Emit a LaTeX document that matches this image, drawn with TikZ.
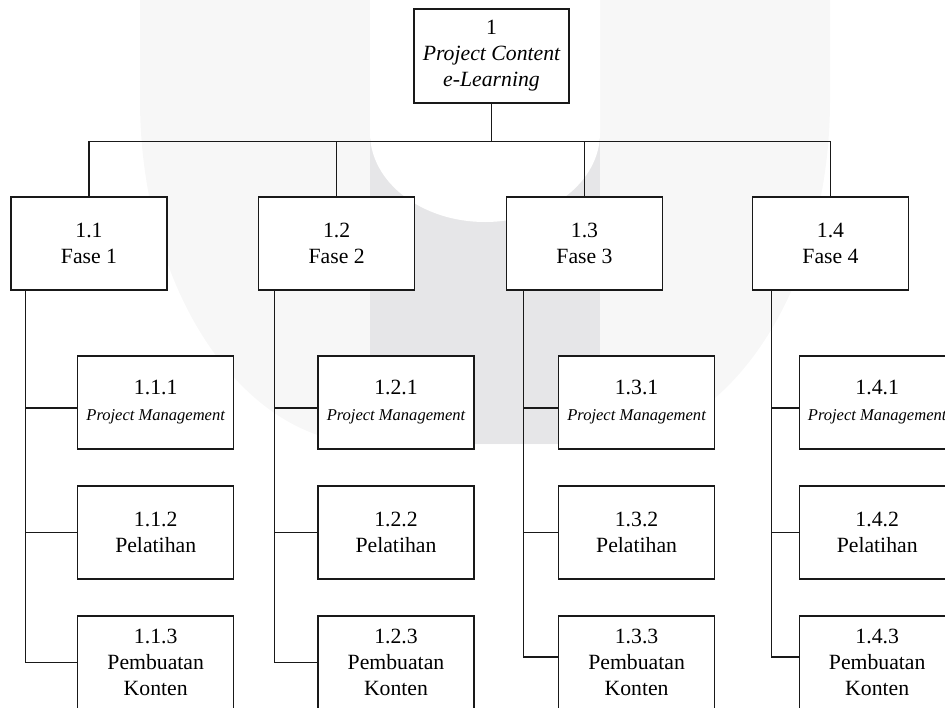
\documentclass[tikz,border=0pt]{standalone}
\usepackage{fontspec}
\setmainfont{Liberation Serif}
\usetikzlibrary{calc}
\definecolor{wmlight}{RGB}{247,247,247}
\definecolor{wmdark}{RGB}{230,230,232}
\definecolor{ink}{RGB}{25,25,25}
\tikzset{
  box/.style={draw=ink, line width=0.95pt, fill=white, inner sep=0pt,
    minimum width=117pt, minimum height=69.75pt, align=center,
    font=\fontsize{16.3}{19.5}\selectfont, text=black},
  link/.style={draw=ink, line width=0.9pt}
}
\begin{document}
\begin{tikzpicture}[x=0.75pt,y=-0.75pt]
\useasboundingbox (0,0) rectangle (945,707);
\clip (0,0) rectangle (945,707);
% watermark
\fill[wmlight] (140,0) -- (140,100) .. controls (140,290) and (243,444) .. (370,444)
  -- (600,444) .. controls (727,444) and (830,290) .. (830,100) -- (830,0) -- cycle;
\fill[wmdark] (370,0) rectangle (600,444);
\fill[white] (370,0) -- (370,133) .. controls (370,182) and (421.5,222) .. (485,222)
  .. controls (548.5,222) and (600,182) .. (600,133) -- (600,0) -- cycle;
% root
\node[box, minimum width=116.25pt, minimum height=70.5pt] (root) at (491.5,56)
  {1\\ \itshape Project Content\\ \itshape e-Learning};
% level 1
\node[box] (f1) at (89,243.5) {1.1\\ Fase 1};
\node[box] (f2) at (336.7,243.5) {1.2\\ Fase 2};
\node[box] (f3) at (584.5,243.5) {1.3\\ Fase 3};
\node[box] (f4) at (830.5,243.5) {1.4\\ Fase 4};
% level 2
\foreach \c/\x in {1/155.7, 2/396, 3/636.6, 4/877.2}{
  \node[box] (k\c-1) at (\x,402.5) {1.\c.1\\ {\fontsize{12.4}{19.5}\selectfont\itshape Project Management}};
  \node[box] (k\c-2) at (\x,532.5) {1.\c.2\\ Pelatihan};
  \node[box] (k\c-3) at (\x,662.5) {1.\c.3\\ Pembuatan\\ Konten};
}
% connectors level 0 -> 1
\coordinate (bus) at (0,141.5);
\draw[link] (root.south) -- (root.south |- bus);
\draw[link] (f1.north) |- (f4.north |- bus) -- (f4.north);
\draw[link] (f2.north) -- (f2.north |- bus);
\draw[link] (f3.north) -- (f3.north |- bus);
% connectors level 1 -> 2
\foreach \c/\sx/\ly in {1/25.5/0, 2/274.5/0, 3/523.5/-5.5, 4/771.5/-5.5}{
  \coordinate (t\c) at (\sx,290);
  \draw[link] (t\c) |- ($(k\c-3.west)+(0,\ly)$);
  \draw[link] (t\c |- k\c-2.west) -- (k\c-2.west);
  \draw[link] ($(t\c |- k\c-1.west)+(0,5.5)$) -- ($(k\c-1.west)+(0,5.5)$);
}
\end{tikzpicture}
\end{document}
